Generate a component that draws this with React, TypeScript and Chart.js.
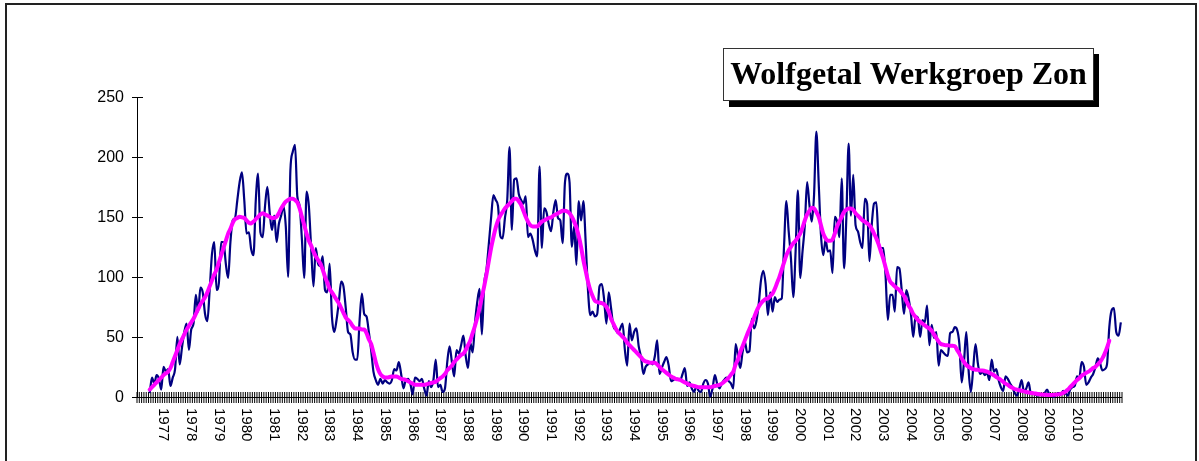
import React, { useEffect, useRef } from 'react';
import { Chart, registerables } from 'chart.js';

Chart.register(...registerables);

// ---------- data ----------
const firstYear = 1976;
const firstMonth = 2; // first category: February 1976
const monthCount = 427;
const categories: string[] = [];
for (let i = 0; i < monthCount; i++) {
  const m = firstMonth - 1 + i;
  const yy = firstYear + Math.floor(m / 12);
  const mm = (m % 12) + 1;
  categories.push(`${yy}-${String(mm).padStart(2, '0')}`);
}

const monthlyStart = '1976-07';
const smoothedStart = '1976-07';

const yearTicks = [
  '1977', '1978', '1979', '1980', '1981', '1982', '1983', '1984', '1985', '1986',
  '1987', '1988', '1989', '1990', '1991', '1992', '1993', '1994', '1995', '1996',
  '1997', '1998', '1999', '2000', '2001', '2002', '2003', '2004', '2005', '2006',
  '2007', '2008', '2009', '2010',
];

const yTicks = [0, 50, 100, 150, 200, 250];

// monthly Wolf numbers (rows per year, from Jul 1976)
const wolfMonthly = [
  4, 17, 12, 19, 16, 7,
  26, 22, 24, 10, 17, 24, 51, 28, 42, 55, 62, 40,
  57, 62, 86, 72, 92, 88, 70, 64, 90, 120, 130, 90,
  96, 130, 130, 112, 100, 130, 148, 150, 165, 180, 188, 165,
  137, 138, 124, 119, 165, 187, 138, 134, 160, 176, 155, 140,
  152, 130, 145, 152, 160, 143, 101, 190, 205, 211, 168, 160,
  132, 100, 172, 160, 125, 93, 125, 112, 110, 118, 90, 88,
  112, 68, 55, 65, 80, 97, 93, 75, 55, 53, 38, 32,
  32, 65, 87, 70, 68, 55, 40, 22, 15, 11, 16, 12,
  15, 13, 12, 15, 24, 23, 30, 20, 8, 15, 16, 12,
  3, 17, 16, 14, 16, 8, 2, 14, 9, 15, 32, 9,
  11, 5, 8, 30, 43, 30, 18, 40, 37, 44, 52, 35,
  25, 46, 38, 62, 80, 91, 53, 95, 107, 128, 150, 169,
  165, 160, 135, 133, 150, 165, 209, 140, 182, 183, 170, 165,
  162, 168, 134, 137, 132, 123, 118, 193, 125, 158, 155, 145,
  139, 155, 165, 150, 148, 129, 179, 187, 180, 126, 143, 111,
  164, 148, 164, 130, 90, 69, 72, 68, 70, 93, 95, 82,
  62, 88, 75, 60, 57, 54, 58, 62, 40, 27, 62, 48,
  55, 58, 43, 34, 20, 26, 28, 30, 28, 35, 48, 20,
  25, 30, 34, 27, 14, 15, 16, 16, 15, 20, 25, 10,
  13, 8, 5, 10, 6, 5, 12, 15, 12, 1, 8, 19,
  12, 8, 12, 15, 17, 14, 12, 8, 45, 35, 25, 38,
  47, 38, 39, 66, 58, 64, 78, 98, 106, 95, 69, 88,
  72, 84, 80, 82, 83, 127, 164, 139, 116, 84, 122, 173,
  100, 122, 144, 180, 161, 147, 169, 222, 180, 136, 119, 132,
  122, 123, 104, 151, 147, 134, 183, 108, 150, 212, 152, 186,
  144, 139, 130, 125, 166, 162, 114, 144, 162, 163, 130, 125,
  125, 102, 65, 86, 86, 72, 109, 108, 90, 70, 90, 83,
  70, 51, 68, 67, 51, 65, 63, 77, 44, 61, 50, 55,
  27, 40, 38, 36, 35, 54, 55, 59, 57, 45, 13, 30,
  55, 23, 5, 25, 45, 29, 20, 22, 19, 21, 15, 32,
  22, 24, 15, 9, 6, 18, 16, 12, 9, 4, 2, 8,
  15, 5, 8, 13, 4, 4, 3, 2, 3, 2, 4, 7,
  3, 2, 1, 3, 4, 3, 6, 4, 2, 7, 9, 10,
  18, 17, 30, 26, 11, 13, 17, 20, 26, 33, 29, 23,
  24, 28, 59, 73, 75, 55, 52, 63,
];

// 13-month smoothed values (rows per year, from Jul 1976)
const wolfSmoothed = [
  7, 9, 11, 13, 15, 17,
  19, 20.5, 22, 25, 30, 35, 40, 45, 49, 53, 57, 60,
  63, 66, 70, 74, 78, 81, 84, 88, 93, 98, 103, 107,
  113, 119, 125, 131, 137, 141, 146, 149, 150, 151, 150.5, 150,
  148, 146, 145.5, 147, 149, 151, 153, 154, 153, 152, 151, 150,
  150, 151, 154, 158, 161, 163.6, 165, 166, 166, 165, 163, 158,
  151, 144, 137, 131, 127, 122, 118, 115, 112, 107, 101, 96,
  91, 88, 85, 82, 79, 75, 71, 67, 65, 63, 60, 58,
  58, 58, 57, 57, 54, 49, 45, 38, 30, 24, 20, 18,
  17, 17, 17.5, 18, 18, 18, 17, 16, 15.5, 15, 14, 13,
  12, 11, 11, 11, 11, 11, 11.4, 12, 12.5, 13, 13.6, 15,
  16.5, 18, 20, 23, 25, 27, 30, 32, 34, 36, 37, 40,
  44, 48, 54, 60, 67, 75, 84, 93, 103, 114, 125, 134,
  142, 148, 152, 155, 158, 160, 162, 164, 166, 166, 164, 161,
  156, 151, 147, 144, 143, 143, 143, 145, 147, 148, 149, 150,
  150.5, 152, 153, 154, 155, 156, 156, 155.5, 154, 151, 147, 142,
  135, 126, 115, 106, 97, 90, 85, 81, 80, 79.5, 79, 78,
  76, 72, 66, 62, 58, 55, 53, 51, 49, 46, 44, 42,
  40, 38, 36, 34, 31.7, 30.5, 30, 29.4, 29.4, 29.4, 28, 26,
  24, 22.5, 21, 19.5, 18, 17, 16, 15.5, 15, 14, 13, 12,
  11, 10.5, 10, 9.5, 9, 9, 9, 9, 9, 9, 9.5, 10,
  10.5, 11, 12, 13.5, 15, 17, 19.5, 22, 28, 32, 38, 43,
  48, 53, 57.5, 62, 67, 72, 76, 79, 81, 82.5, 83, 85,
  87, 91, 96, 101, 107, 113, 119, 123, 126, 129, 131, 134,
  137, 142, 148, 153, 156, 158.6, 158, 155, 151, 144, 137, 133,
  131, 131, 132, 137, 143, 147, 151, 155, 157, 158, 158, 156.7,
  154, 152, 150, 148, 147, 145.5, 144, 141, 137, 133, 128, 122,
  116, 109, 102, 97, 95, 93, 91.4, 90, 87.5, 85, 81, 77,
  74, 70, 67.5, 65, 63.5, 62, 60.5, 59, 58, 56, 53, 50,
  47, 45, 44.5, 44, 44, 43.5, 43.5, 43.3, 40, 37, 33, 30,
  27.5, 26, 25, 24, 23.5, 23.5, 23, 23, 22.5, 22, 21, 20,
  19, 17.5, 16.4, 15, 13.5, 12, 11, 9.5, 8.5, 7.5, 7, 6.5,
  6, 5.5, 5, 4.6, 4.2, 4, 3.7, 3.3, 3, 2.9, 2.7, 2.6,
  2.5, 2.5, 2.7, 2.8, 3, 3.5, 4.3, 5.3, 7, 9, 11, 13,
  15, 16.5, 18.5, 19.7, 21, 22, 23.5, 25, 26, 28, 30, 33,
  37, 42, 47.8,
];

const titleText = 'Wolfgetal Werkgroep Zon';

// ---------- helpers ----------
function alignToCategories(values: number[], start: string): (number | null)[] {
  const offset = categories.indexOf(start);
  return categories.map((_, i) => {
    const k = i - offset;
    return k >= 0 && k < values.length ? values[k] : null;
  });
}

const SANS = '"Liberation Sans", Arial, sans-serif';
const SERIF = '"Liberation Serif", "Times New Roman", serif';

const decorPlugin = {
  id: 'decor',
  beforeDatasetsDraw(chart: any) {
    const { ctx, chartArea, scales } = chart;
    const xs = scales.x;
    const ys = scales.y;
    const left = chartArea.left;
    const bottom = chartArea.bottom;
    ctx.save();
    ctx.strokeStyle = '#000';
    ctx.lineWidth = 1;
    ctx.beginPath();
    // axes lines
    ctx.moveTo(left + 0.5, chartArea.top);
    ctx.lineTo(left + 0.5, bottom);
    ctx.moveTo(left, bottom - 0.5);
    ctx.lineTo(chartArea.right, bottom - 0.5);
    // y tick marks (crossing)
    yTicks.forEach((v) => {
      const py = Math.round(ys.getPixelForValue(v)) - 0.5;
      ctx.moveTo(left - 5, py);
      ctx.lineTo(left + 6, py);
    });
    ctx.stroke();
    // x tick marks between categories (crossing)
    const w = xs.getPixelForValue(1) - xs.getPixelForValue(0);
    ctx.beginPath();
    for (let i = 0; i <= categories.length; i++) {
      const px = xs.getPixelForValue(i) - w / 2;
      ctx.moveTo(px, bottom - 6);
      ctx.lineTo(px, bottom + 5);
    }
    ctx.stroke();
    ctx.restore();
  },
  afterDraw(chart: any) {
    const { ctx, chartArea, scales } = chart;
    const xs = scales.x;
    ctx.save();
    // year labels rotated clockwise
    ctx.fillStyle = '#000';
    ctx.font = `15px ${SANS}`;
    ctx.textAlign = 'left';
    ctx.textBaseline = 'middle';
    yearTicks.forEach((yr) => {
      const idx = categories.indexOf(`${yr}-01`);
      if (idx < 0) return;
      const px = xs.getPixelForValue(idx);
      ctx.save();
      ctx.translate(px, chartArea.bottom + 10);
      ctx.rotate(Math.PI / 2);
      ctx.fillText(yr, 0, 0);
      ctx.restore();
    });

    // title box with shadow
    ctx.fillStyle = '#000';
    ctx.fillRect(729, 54, 370, 53);
    ctx.fillStyle = '#fff';
    ctx.fillRect(723, 48, 371, 53);
    ctx.strokeStyle = '#333';
    ctx.lineWidth = 1;
    ctx.strokeRect(723.5, 48.5, 370, 52);
    ctx.fillStyle = '#000';
    ctx.font = `bold 32px ${SERIF}`;
    ctx.textAlign = 'center';
    ctx.textBaseline = 'alphabetic';
    ctx.fillText(titleText, 908.5, 84);

    // outer frame
    ctx.strokeStyle = '#222';
    ctx.lineWidth = 2;
    ctx.strokeRect(6, 4, 1190, 480);
    ctx.restore();
  },
};

export default function App() {
  const canvasRef = useRef<HTMLCanvasElement | null>(null);

  useEffect(() => {
    document.body.style.margin = '0';
    const canvas = canvasRef.current;
    if (!canvas) return;
    const chart = new Chart(canvas, {
      type: 'line',
      data: {
        labels: categories,
        datasets: [
          {
            label: 'Gladgestreken',
            data: alignToCategories(wolfSmoothed, smoothedStart),
            borderColor: '#FF00FF',
            borderWidth: 4,
            pointRadius: 0,
            cubicInterpolationMode: 'monotone',
            borderCapStyle: 'round',
            borderJoinStyle: 'round',
            order: 0,
          },
          {
            label: 'Maandgemiddelde',
            data: alignToCategories(wolfMonthly, monthlyStart),
            borderColor: '#000080',
            borderWidth: 2.2,
            pointRadius: 0,
            cubicInterpolationMode: 'monotone',
            borderJoinStyle: 'round',
            order: 1,
          },
        ],
      },
      options: {
        responsive: false,
        animation: false,
        devicePixelRatio: 1,
        layout: { padding: { left: 0, right: 77, top: 98, bottom: 0 } },
        plugins: {
          legend: { display: false },
          tooltip: { enabled: false },
          title: { display: false },
        },
        scales: {
          x: {
            type: 'category',
            offset: true,
            grid: { display: false, drawTicks: false },
            border: { display: false },
            ticks: { display: false, autoSkip: false },
            afterFit: (s: any) => {
              s.height = 63;
            },
          },
          y: {
            min: 0,
            max: 250,
            afterBuildTicks: (s: any) => {
              s.ticks = yTicks.map((v) => ({ value: v }));
            },
            grid: { display: false, drawTicks: false },
            border: { display: false },
            ticks: {
              padding: 13,
              color: '#000',
              font: { family: SANS, size: 16 },
            },
            afterFit: (s: any) => {
              s.width = 137;
            },
          },
        },
      },
      plugins: [decorPlugin],
    } as any);
    return () => chart.destroy();
  }, []);

  return (
    <div style={{ width: 1199, height: 461, background: '#fff' }}>
      <canvas ref={canvasRef} width={1199} height={461} style={{ display: 'block' }} />
    </div>
  );
}
